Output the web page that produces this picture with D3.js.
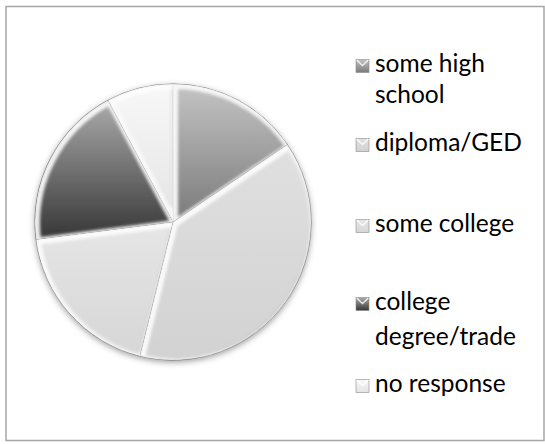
<!DOCTYPE html>
<html>
<head>
<meta charset="utf-8">
<script src="https://cdn.jsdelivr.net/npm/d3@7"></script>
<style>
  html, body { margin: 0; padding: 0; background: #fff; }
  svg { display: block; }
</style>
</head>
<body>
<svg id="chart" width="545" height="444"></svg>
<script>
// ---- data ----
const categories = ["some high school", "diploma/GED", "some college", "college degree/trade", "no response"];
const values = [15.5, 38.3, 19.1, 19.2, 7.8];
const legendLines = [["some high", "school"], ["diploma/GED"], ["some college"], ["college", "degree/trade"], ["no response"]];
const topColors = ["#c4c4c4", "#e0e0e0", "#e6e6e6", "#ababab", "#f8f8f8"];
const bottomColors = ["#7a7a7a", "#d2d2d2", "#d6d6d6", "#363636", "#e4e4e4"];

const svg = d3.select("#chart");
const defs = svg.append("defs");

// frame
svg.append("rect").attr("x", 6).attr("y", 6.5).attr("width", 538).attr("height", 434)
  .attr("fill", "#fff").attr("stroke", "#a6a6a6").attr("stroke-width", 1.5);

categories.forEach((c, i) => {
  const g = defs.append("linearGradient").attr("id", "grad" + i)
    .attr("x1", 0).attr("y1", 0).attr("x2", 0).attr("y2", 1);
  g.append("stop").attr("offset", "0%").attr("stop-color", topColors[i]);
  g.append("stop").attr("offset", "100%").attr("stop-color", bottomColors[i]);
});

const shadow = defs.append("filter").attr("id", "shadow")
  .attr("x", "-20%").attr("y", "-20%").attr("width", "140%").attr("height", "140%");
shadow.append("feDropShadow").attr("dx", 0).attr("dy", 2).attr("stdDeviation", 3)
  .attr("flood-color", "#000").attr("flood-opacity", 0.4);

const soft = defs.append("filter").attr("id", "soft");
soft.append("feGaussianBlur").attr("stdDeviation", 1.4);

const cx = 173, cy = 222, R = 138;
const pie = d3.pie().sort(null).value(d => d)(values);
const arc = d3.arc().innerRadius(0).outerRadius(R);

const pg = svg.append("g").attr("transform", `translate(${cx},${cy})`);
const base = pg.append("g").attr("filter", "url(#shadow)");
base.selectAll("path.slice").data(pie).join("path")
  .attr("class", "slice")
  .attr("d", arc)
  .attr("fill", (d, i) => `url(#grad${i})`);

// bevel highlights clipped inside each slice
pie.forEach((d, i) => {
  const cp = defs.append("clipPath").attr("id", "clip" + i);
  cp.append("path").attr("d", arc(d)).attr("transform", `translate(${cx},${cy})`);
  const gg = svg.append("g").attr("clip-path", `url(#clip${i})`);
  gg.append("path").attr("d", arc(d)).attr("transform", `translate(${cx},${cy})`)
    .attr("fill", "none").attr("stroke", "#000").attr("stroke-width", 3)
    .attr("stroke-opacity", 0.25).attr("filter", "url(#soft)");
  gg.append("path").attr("d", arc(d)).attr("transform", `translate(${cx + 1.5},${cy + 1.5})`)
    .attr("fill", "none").attr("stroke", "#fff").attr("stroke-width", 7)
    .attr("stroke-opacity", 0.9).attr("filter", "url(#soft)");
});

// thin dark separators
pg.selectAll("path.edge").data(pie).join("path")
  .attr("class", "edge")
  .attr("d", arc)
  .attr("fill", "none").attr("stroke", "#4a4a4a").attr("stroke-width", 0.9)
  .attr("stroke-opacity", 0.75);

// legend
const baselines = [[72, 103], [151], [232], [310, 345], [392]];
const lg = svg.append("g");
categories.forEach((c, i) => {
  const b0 = baselines[i][0];
  lg.append("rect").attr("x", 356).attr("y", b0 - 12.5).attr("width", 13).attr("height", 13)
    .attr("fill", `url(#grad${i})`).attr("stroke", "#8a8a8a").attr("stroke-width", 0.6);
  lg.append("path")
    .attr("d", `M356.8,${b0 - 12} L362.5,${b0 - 6.5} L368.2,${b0 - 12}`)
    .attr("fill", "none").attr("stroke", "#fff").attr("stroke-width", 1.3).attr("stroke-opacity", 0.85);
  legendLines[i].forEach((t, j) => {
    lg.append("text").attr("x", 375).attr("y", baselines[i][j])
      .attr("font-family", "Lato, 'Open Sans', sans-serif").attr("font-size", 24.5)
      .attr("fill", "#000").text(t);
  });
});
</script>
</body>
</html>
